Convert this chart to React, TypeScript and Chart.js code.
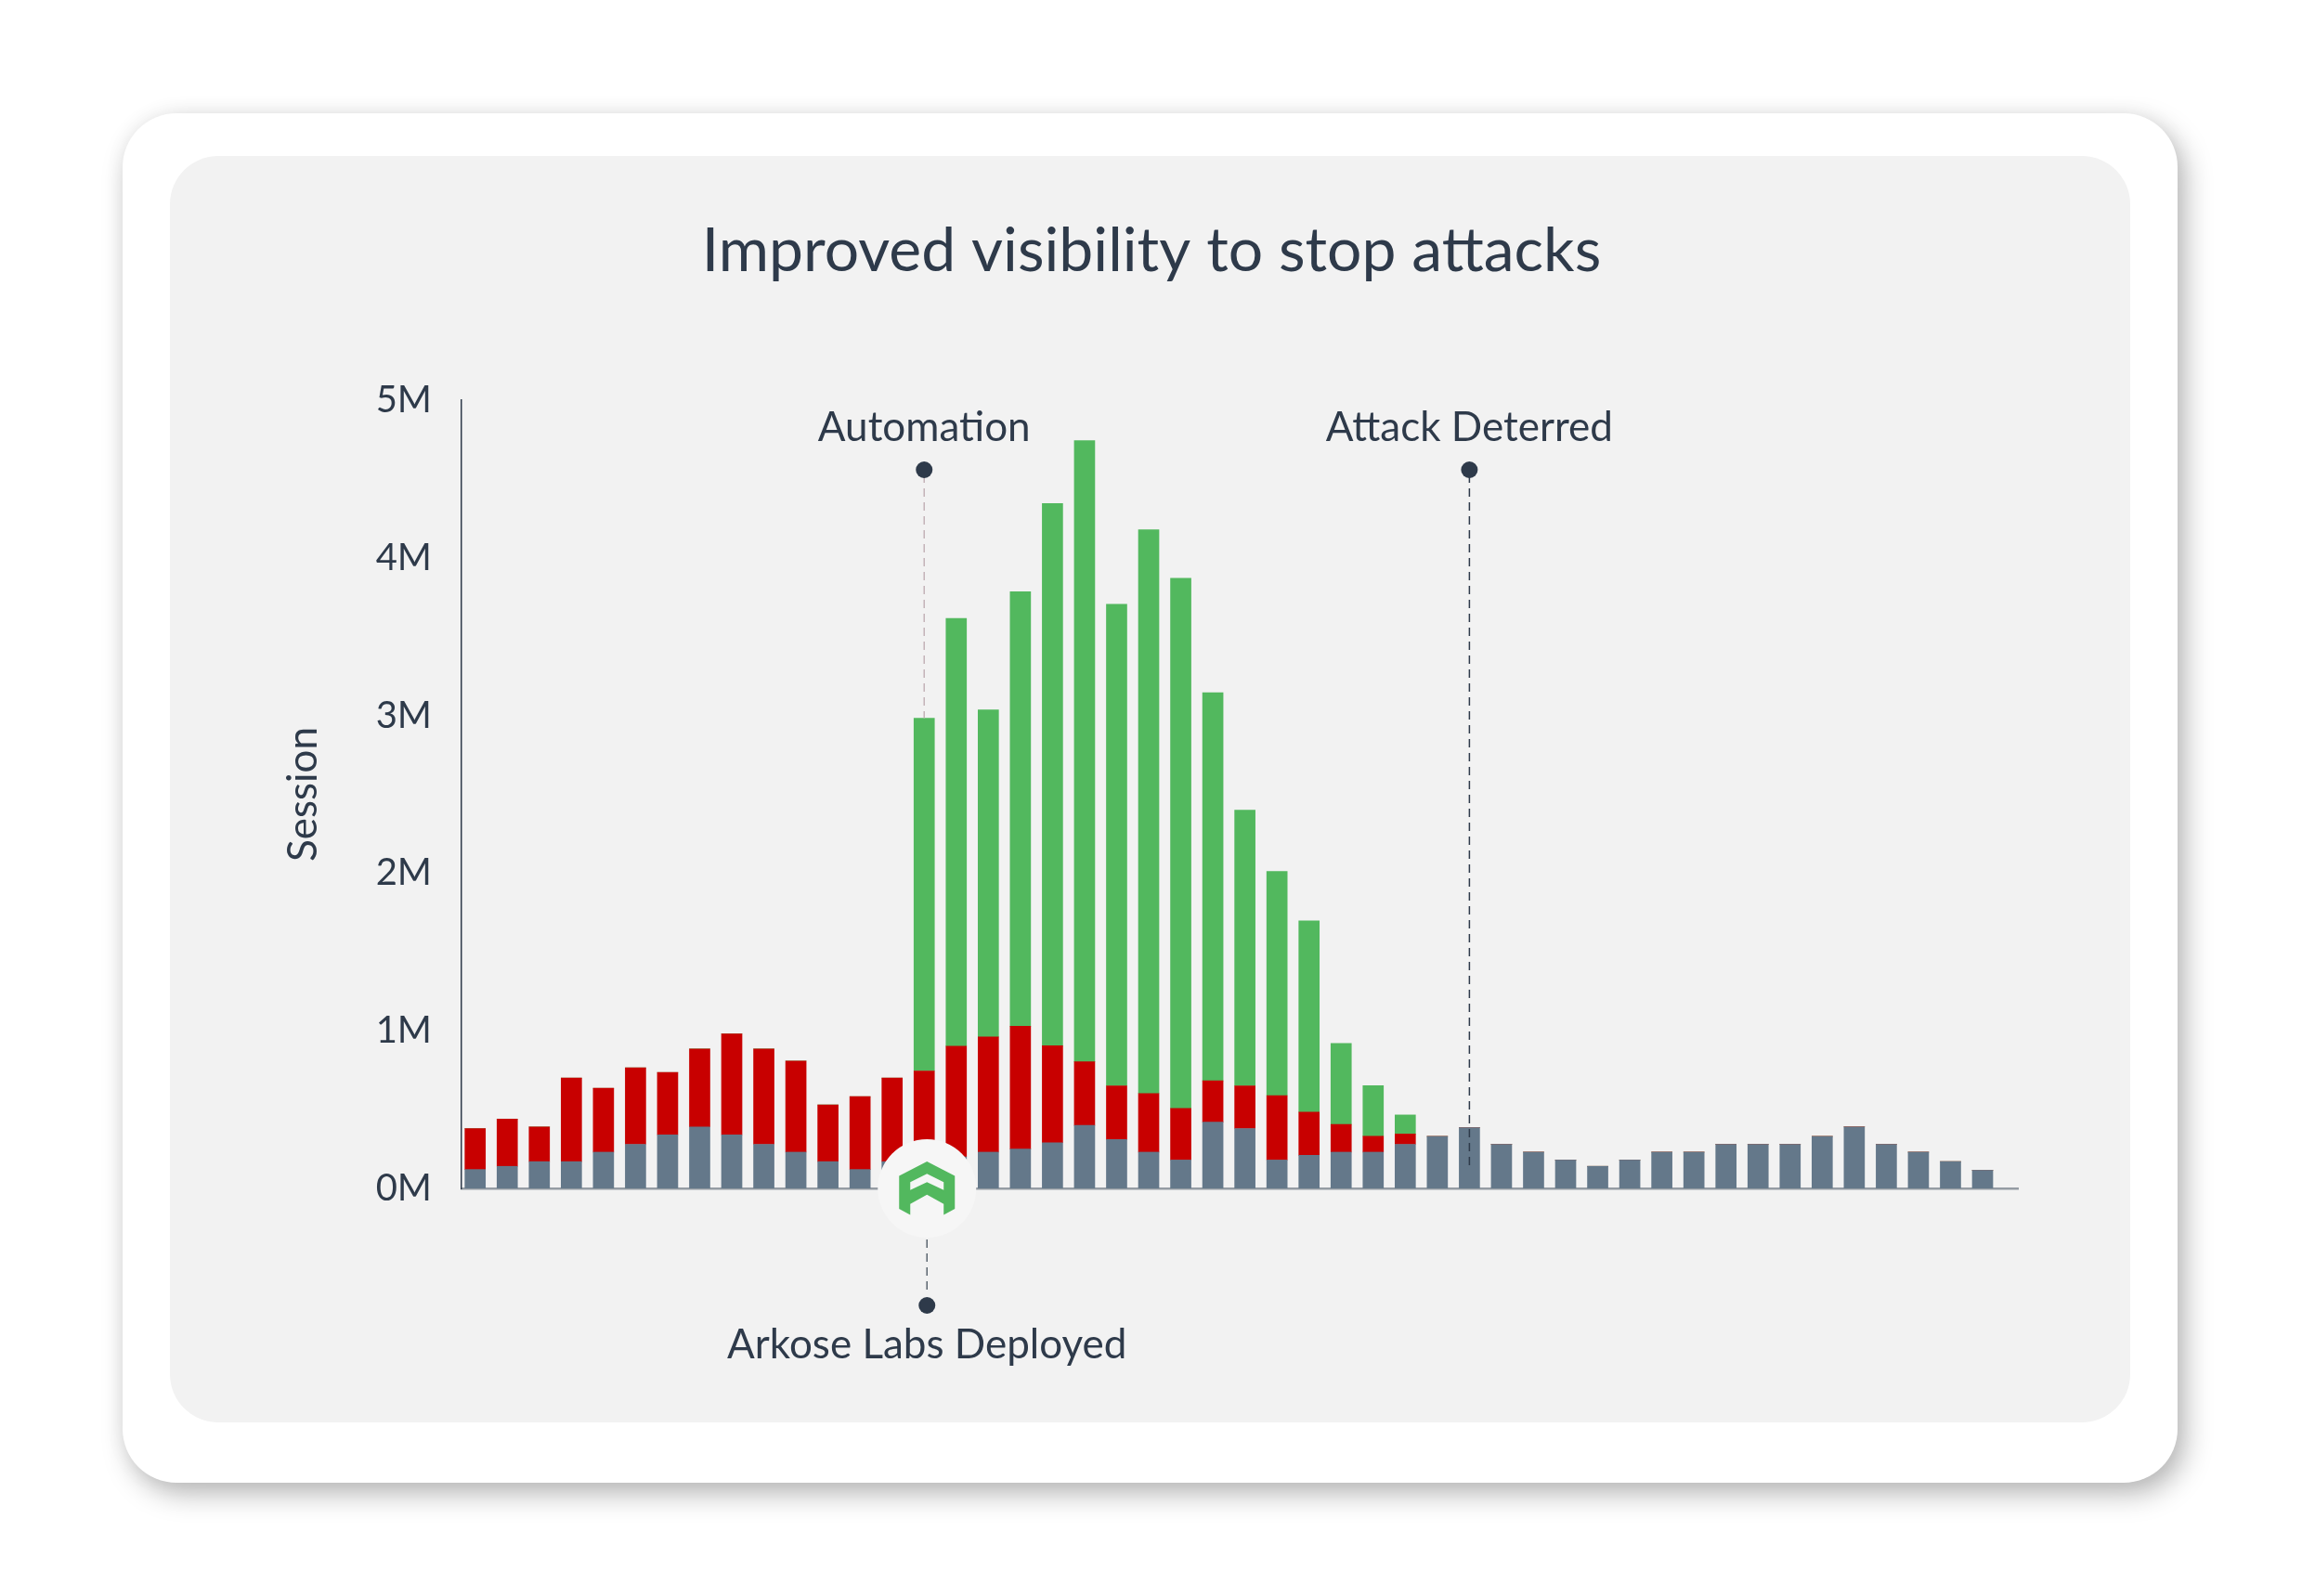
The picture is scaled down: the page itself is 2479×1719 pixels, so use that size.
import React, { useEffect, useRef } from 'react';
import { Chart, registerables } from 'chart.js';

Chart.register(...registerables);

// ---- data (values in millions of sessions) ----
const weeks = [1, 2, 3, 4, 5, 6, 7, 8, 9, 10, 11, 12, 13, 14, 15, 16, 17, 18, 19, 20, 21, 22, 23, 24, 25, 26, 27, 28, 29, 30, 31, 32, 33, 34, 35, 36, 37, 38, 39, 40, 41, 42, 43, 44, 45, 46, 47, 48];

const legitimate = [0.12, 0.14, 0.17, 0.17, 0.23, 0.28, 0.34, 0.39, 0.34, 0.28, 0.23, 0.17, 0.12, 0.17, 0.15, 0.2, 0.23, 0.25, 0.29, 0.4, 0.31, 0.23, 0.18, 0.42, 0.38, 0.18, 0.21, 0.23, 0.23, 0.28, 0.33, 0.385, 0.28, 0.23, 0.18, 0.14, 0.18, 0.23, 0.23, 0.28, 0.28, 0.28, 0.33, 0.39, 0.28, 0.23, 0.17, 0.115];

const undetected = [0.26, 0.3, 0.22, 0.53, 0.405, 0.485, 0.395, 0.495, 0.64, 0.605, 0.578, 0.36, 0.462, 0.53, 0.595, 0.702, 0.731, 0.778, 0.615, 0.403, 0.341, 0.372, 0.327, 0.262, 0.271, 0.409, 0.274, 0.176, 0.101, 0.065, 0, 0, 0, 0, 0, 0, 0, 0, 0, 0, 0, 0, 0, 0, 0, 0, 0, 0];

const automation = [0, 0, 0, 0, 0, 0, 0, 0, 0, 0, 0, 0, 0, 0, 2.238, 2.713, 2.075, 2.757, 3.439, 3.94, 3.055, 3.576, 3.363, 2.462, 1.748, 1.422, 1.213, 0.514, 0.321, 0.121, 0, 0, 0, 0, 0, 0, 0, 0, 0, 0, 0, 0, 0, 0, 0, 0, 0, 0];

const yTicks = [0, 1, 2, 3, 4, 5];

const chartTitle = 'Improved visibility to stop attacks';
const axisTitle = 'Session';
const automationLabel = 'Automation';
const automationWeek = 15;
const deterredLabel = 'Attack Deterred';
const deterredWeek = 32;
const deployedLabel = 'Arkose Labs Deployed';
const deployedWeek = 15;

// ---- styles ----
const INK = '#2e3a4a';
const GRAY = '#64788a';
const RED = '#c80000';
const GREEN = '#52b85e';
const PANEL = '#f2f2f2';
const FONT = 'Lato';

const annotationPlugin = {
  id: 'arkoseAnnotations',
  afterDraw(chart: any) {
    const { ctx, chartArea } = chart;
    const xs = chart.scales.x;
    const ys = chart.scales.y;
    const base = ys.getPixelForValue(0);
    const top = chartArea.top;

    const dot = (x: number, y: number) => {
      ctx.beginPath();
      ctx.arc(x, y, 9, 0, Math.PI * 2);
      ctx.fillStyle = INK;
      ctx.fill();
    };
    const dashed = (x: number, y1: number, y2: number, color: string) => {
      ctx.save();
      ctx.beginPath();
      ctx.setLineDash([9, 6]);
      ctx.lineWidth = 1.5;
      ctx.strokeStyle = color;
      ctx.moveTo(x, y1);
      ctx.lineTo(x, y2);
      ctx.stroke();
      ctx.restore();
    };
    const label = (text: string, x: number, y: number) => {
      ctx.save();
      ctx.font = `400 44px ${FONT}`;
      ctx.fillStyle = INK;
      ctx.textAlign = 'center';
      ctx.textBaseline = 'alphabetic';
      ctx.fillText(text, x, y);
      ctx.restore();
    };

    ctx.save();

    // Automation marker
    const ai = weeks.indexOf(automationWeek);
    const ax = xs.getPixelForValue(automationWeek);
    const aTop = ys.getPixelForValue(legitimate[ai] + undetected[ai] + automation[ai]);
    dashed(ax, top + 80, aTop, '#c4b3b8');
    dot(ax, top + 75);
    label(automationLabel, ax, top + 44);

    // Attack deterred marker
    const dx = xs.getPixelForValue(deterredWeek);
    dashed(dx, top + 80, base - 25, INK);
    dot(dx, top + 75);
    label(deterredLabel, dx, top + 44);

    // Arkose Labs deployed marker with logo
    const lx = xs.getPixelForValue(deployedWeek) + 3;
    ctx.beginPath();
    ctx.arc(lx, base, 53, 0, Math.PI * 2);
    ctx.fillStyle = '#f6f6f6';
    ctx.fill();

    const outer = [[0, -29], [30, -13.5], [30, 22], [18, 28.5], [18, 16.7], [0, 6.7], [-18, 16.7], [-18, 28.5], [-30, 22], [-30, -13.5]];
    ctx.beginPath();
    outer.forEach(([px, py], k) => (k === 0 ? ctx.moveTo(lx + px, base + py) : ctx.lineTo(lx + px, base + py)));
    ctx.closePath();
    ctx.fillStyle = GREEN;
    ctx.fill();
    const gap = [[-18, -6.7], [0, -15.7], [18, -6.7], [18, 1.7], [0, -6.7], [-18, 1.7]];
    ctx.beginPath();
    gap.forEach(([px, py], k) => (k === 0 ? ctx.moveTo(lx + px, base + py) : ctx.lineTo(lx + px, base + py)));
    ctx.closePath();
    ctx.fillStyle = '#f6f6f6';
    ctx.fill();

    dashed(lx, base + 55, base + 109, '#5b6670');
    dot(lx, base + 126);
    label(deployedLabel, lx, base + 183);

    ctx.restore();
  },
};

export default function App() {
  const canvasRef = useRef<HTMLCanvasElement | null>(null);

  useEffect(() => {
    if (!canvasRef.current) return;
    const chart = new Chart(canvasRef.current, {
      type: 'bar',
      data: {
        labels: weeks,
        datasets: [
          { label: 'Legitimate', data: legitimate, backgroundColor: GRAY, borderWidth: 0 },
          { label: 'Undetected attacks', data: undetected, backgroundColor: RED, borderWidth: 0 },
          { label: 'Automation', data: automation, backgroundColor: GREEN, borderWidth: 0 },
        ],
      },
      options: {
        responsive: false,
        animation: false,
        events: [],
        layout: { padding: { left: 307, right: 306, top: 0, bottom: 439 } },
        datasets: { bar: { barThickness: 22 } },
        plugins: {
          legend: { display: false },
          tooltip: { enabled: false },
          title: {
            display: true,
            text: chartTitle,
            color: INK,
            font: { family: FONT, size: 66, weight: '400', lineHeight: 1.2 },
            padding: { top: 231, bottom: 120.8 },
          },
        },
        scales: {
          x: {
            type: 'linear',
            stacked: true,
            offset: false,
            min: 0.574,
            max: 49.1,
            ticks: { display: false },
            grid: { display: false, drawTicks: false },
            border: { display: true, color: '#959ca3', width: 2.5 },
          },
          y: {
            stacked: true,
            min: 0,
            max: 5,
            afterFit: (scale: any) => {
              scale.width = 190;
            },
            afterBuildTicks: (scale: any) => {
              scale.ticks = yTicks.map((v) => ({ value: v }));
            },
            ticks: {
              color: INK,
              padding: 32,
              font: { family: FONT, size: 40, weight: '400' },
              callback: (v: any) => `${v}M`,
            },
            grid: { display: false, drawTicks: false },
            border: { display: true, color: INK, width: 1.5 },
            title: {
              display: true,
              text: axisTitle,
              color: INK,
              font: { family: FONT, size: 44, weight: '400', lineHeight: 1 },
              padding: { top: -2, bottom: 0 },
            },
          },
        },
      },
      plugins: [annotationPlugin],
    });
    return () => chart.destroy();
  }, []);

  return (
    <div style={{ position: 'absolute', left: 0, top: 0, width: 2479, height: 1719, background: '#ffffff', overflow: 'hidden' }}>
      <div
        style={{
          position: 'absolute',
          left: 132,
          top: 122,
          width: 2213,
          height: 1475,
          borderRadius: 58,
          background: '#ffffff',
          boxShadow: '8px 12px 30px rgba(0,0,0,0.28), 0 0 22px rgba(0,0,0,0.05)',
        }}
      />
      <div
        style={{
          position: 'absolute',
          left: 183,
          top: 168,
          width: 2111,
          height: 1364,
          borderRadius: 52,
          background: PANEL,
        }}
      />
      <canvas ref={canvasRef} width={2479} height={1719} style={{ position: 'absolute', left: 0, top: 0, width: 2479, height: 1719 }} />
    </div>
  );
}
